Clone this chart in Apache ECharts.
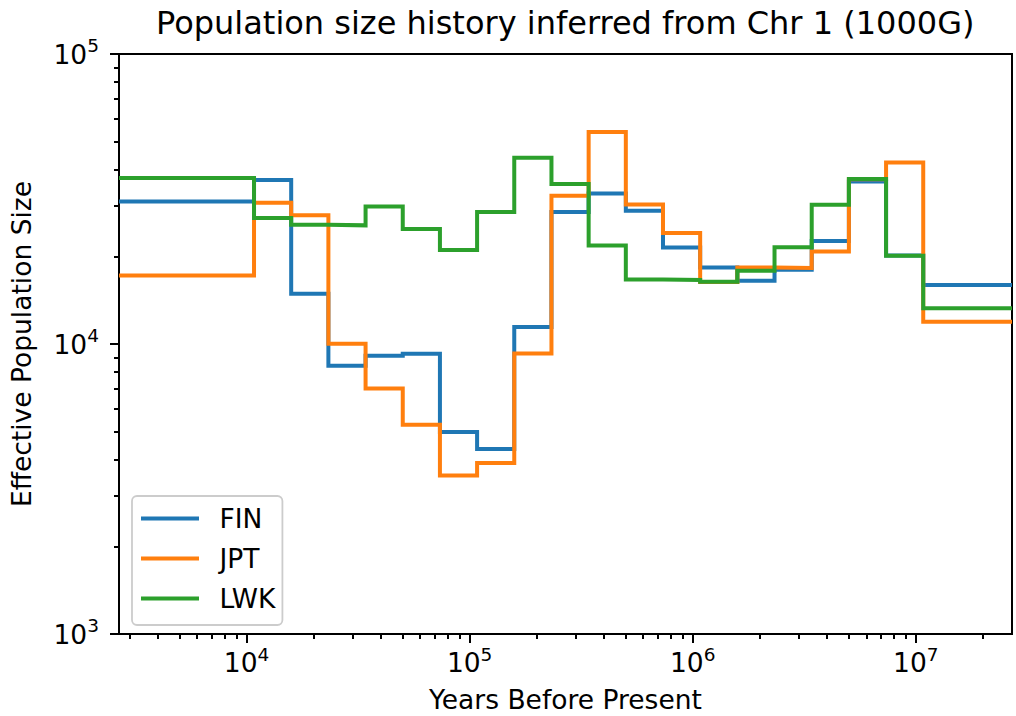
<!DOCTYPE html>
<html>
<head>
<meta charset="utf-8">
<script src="https://cdn.jsdelivr.net/npm/echarts@6/dist/echarts.min.js"></script>
<style>
  html, body { margin: 0; padding: 0; background: #ffffff; }
  #chart { width: 1016px; height: 716px; }
</style>
</head>
<body>
<div id="chart"></div>
<script>
// Interval edges in years before present; each population size holds from one edge to the next.
const timeEdges = [2680, 10800, 15850, 23270, 34160, 50140, 73590, 108000, 158500, 232700,
  341600, 501400, 735900, 1080000, 1585000, 2327000, 3416000, 5014000, 7359000, 10800000, 27000000];

// Effective population size per interval
const finNe = [31020, 36780, 14910, 8415, 9113, 9260, 4973, 4343, 11450, 28520,
  33060, 28820, 21500, 18370, 16530, 18040, 22660, 36370, 20200, 15970];
const jptNe = [17240, 30700, 27800, 10020, 7028, 5268, 3523, 3888, 9281, 32470,
  53830, 30300, 24140, 16350, 18370, 18290, 20860, 37000, 42290, 11940];
const lwkNe = [37350, 27200, 25780, 25650, 29820, 24920, 21090, 28520, 43900, 35620,
  21880, 16700, 16630, 16400, 17890, 21540, 30230, 37070, 20160, 13270];

const seriesNames = ['FIN', 'JPT', 'LWK'];
const seriesColors = ['#1f77b4', '#ff7f0e', '#2ca02c'];

// Tick positions
const xMajorTicks = [10000, 100000, 1000000, 10000000];
const xMinorTicks = [3000, 4000, 5000, 6000, 7000, 8000, 9000,
  20000, 30000, 40000, 50000, 60000, 70000, 80000, 90000,
  200000, 300000, 400000, 500000, 600000, 700000, 800000, 900000,
  2000000, 3000000, 4000000, 5000000, 6000000, 7000000, 8000000, 9000000,
  20000000];
const yMajorTicks = [1000, 10000, 100000];
const yMinorTicks = [2000, 3000, 4000, 5000, 6000, 7000, 8000, 9000,
  20000, 30000, 40000, 50000, 60000, 70000, 80000, 90000];

const xRange = [2680, 27000000];
const yRange = [1000, 100000];

const FONT = 'DejaVu Sans';
const BASE_SIZE = 26.5;

function stepPoints(values) {
  const pts = values.map((v, i) => [timeEdges[i], v]);
  pts.push([timeEdges[timeEdges.length - 1], values[values.length - 1]]);
  return pts;
}

function powerLabel(value) {
  const exp = Math.round(Math.log10(value));
  return '{base|10}{sup|' + exp + '}';
}

const powerRich = {
  base: { fontSize: BASE_SIZE, fontFamily: FONT, color: '#000', verticalAlign: 'bottom', lineHeight: 27 },
  sup: { fontSize: 18.5, fontFamily: FONT, color: '#000', verticalAlign: 'bottom', padding: [0, 0, 12.5, 0], lineHeight: 19 }
};

const tickLine = { color: '#000', width: 2 };

const chart = echarts.init(document.getElementById('chart'), null, { renderer: 'svg' });

chart.setOption({
  backgroundColor: '#ffffff',
  animation: false,
  title: {
    text: 'Population size history inferred from Chr 1 (1000G)',
    left: 156,
    top: 7,
    padding: 0,
    textStyle: { fontFamily: FONT, fontSize: 32, fontWeight: 'normal', color: '#000' }
  },
  grid: {
    left: 119, right: 4, top: 54, bottom: 82,
    outerBoundsMode: 'none',
    containLabel: false,
    show: true, borderColor: '#000', borderWidth: 2, backgroundColor: 'transparent'
  },
  legend: {
    orient: 'vertical',
    left: 132, top: 496,
    data: seriesNames,
    icon: 'rect',
    itemWidth: 58, itemHeight: 4,
    itemGap: 13,
    padding: [9, 7, 13, 9],
    backgroundColor: 'rgba(255,255,255,0.8)',
    borderColor: '#cccccc', borderWidth: 1.8, borderRadius: 5,
    textStyle: { fontFamily: FONT, fontSize: BASE_SIZE, color: '#000', lineHeight: 26, padding: [0, 0, 0, 15.5] }
  },
  xAxis: [
    {
      type: 'log', logBase: 10, min: xRange[0], max: xRange[1],
      name: 'Years Before Present', nameLocation: 'middle', nameGap: 55,
      nameTextStyle: { fontFamily: FONT, fontSize: BASE_SIZE, color: '#000', lineHeight: 20 },
      axisLine: { show: false },
      splitLine: { show: false },
      axisTick: { show: true, length: 9, lineStyle: tickLine, customValues: xMajorTicks },
      axisLabel: { show: true, margin: 15, formatter: powerLabel, rich: powerRich, customValues: xMajorTicks }
    },
    {
      type: 'log', logBase: 10, min: xRange[0], max: xRange[1], position: 'bottom',
      axisLine: { show: false },
      splitLine: { show: false },
      axisTick: { show: true, length: 5, lineStyle: tickLine, customValues: xMinorTicks },
      axisLabel: { show: false }
    }
  ],
  yAxis: [
    {
      type: 'log', logBase: 10, min: yRange[0], max: yRange[1],
      name: 'Effective Population Size', nameLocation: 'middle', nameGap: 84,
      nameTextStyle: { fontFamily: FONT, fontSize: BASE_SIZE, color: '#000' },
      axisLine: { show: false },
      splitLine: { show: false },
      axisTick: { show: true, length: 9, lineStyle: tickLine, customValues: yMajorTicks },
      axisLabel: { show: true, margin: 20, formatter: powerLabel, rich: powerRich, customValues: yMajorTicks }
    },
    {
      type: 'log', logBase: 10, min: yRange[0], max: yRange[1], position: 'left',
      axisLine: { show: false },
      splitLine: { show: false },
      axisTick: { show: true, length: 5, lineStyle: tickLine, customValues: yMinorTicks },
      axisLabel: { show: false }
    }
  ],
  series: [finNe, jptNe, lwkNe].map((vals, i) => ({
    name: seriesNames[i],
    type: 'line',
    step: 'end',
    data: stepPoints(vals),
    showSymbol: false,
    symbol: 'none',
    color: seriesColors[i],
    lineStyle: { color: seriesColors[i], width: 4, join: 'miter' },
    clip: true
  }))
});
</script>
</body>
</html>
